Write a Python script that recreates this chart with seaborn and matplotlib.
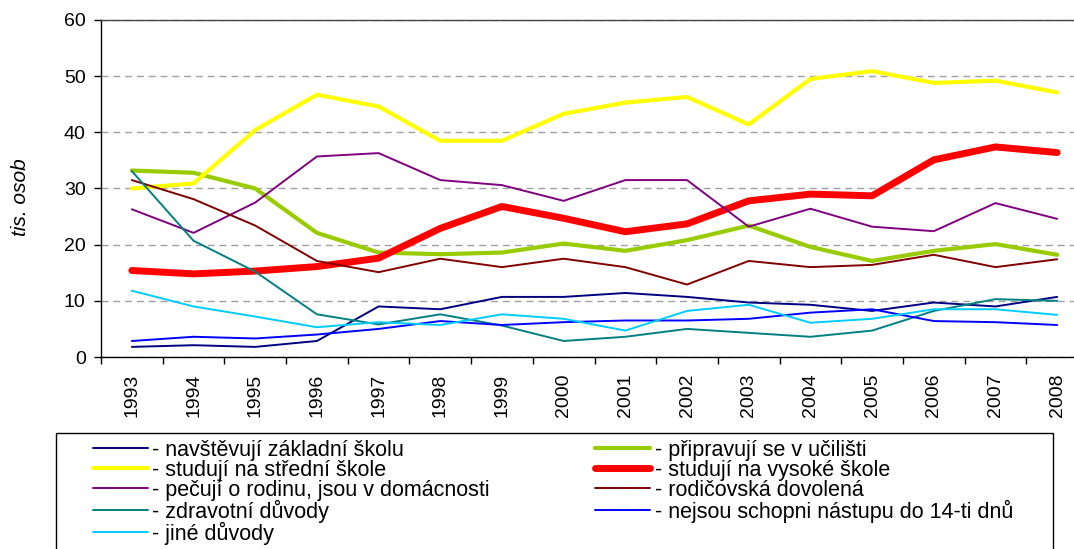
import matplotlib
matplotlib.use("Agg")
import matplotlib.pyplot as plt
import numpy as np
import pandas as pd
import seaborn as sns
from matplotlib.patches import Rectangle

years = [str(y) for y in range(1993, 2009)]

# tis. osob
zakladni = [1.8, 2.1, 1.8, 2.85, 9.0, 8.5, 10.7, 10.7, 11.4, 10.7, 9.7, 9.3, 8.2, 9.7, 9.0, 10.7]
ucilisti = [33.2, 32.8, 30.0, 22.1, 18.6, 18.3, 18.6, 20.2, 18.9, 20.8, 23.4, 19.6, 17.1, 18.9, 20.1, 18.2]
stredni = [30.0, 30.9, 40.4, 46.7, 44.6, 38.5, 38.5, 43.3, 45.3, 46.3, 41.4, 49.5, 50.9, 48.8, 49.2, 47.1]
vysoke = [15.4, 14.8, 15.3, 16.1, 17.6, 22.9, 26.8, 24.7, 22.3, 23.7, 27.8, 29.0, 28.7, 35.1, 37.4, 36.4]
rodina = [26.3, 22.1, 27.5, 35.7, 36.3, 31.5, 30.6, 27.8, 31.5, 31.5, 23.2, 26.4, 23.2, 22.4, 27.4, 24.6]
rodicovska = [31.5, 28.1, 23.4, 17.1, 15.1, 17.5, 16.0, 17.5, 16.0, 12.9, 17.1, 16.0, 16.4, 18.2, 16.0, 17.4]
zdravotni = [33.1, 20.7, 15.2, 7.6, 5.8, 7.6, 5.6, 2.85, 3.6, 5.0, 4.3, 3.6, 4.7, 8.2, 10.3, 10.0]
nejsou = [2.85, 3.6, 3.3, 4.0, 5.0, 6.4, 5.7, 6.2, 6.5, 6.5, 6.8, 7.9, 8.5, 6.4, 6.2, 5.7]
jine = [11.8, 9.0, 7.2, 5.3, 6.2, 5.7, 7.6, 6.8, 4.7, 8.2, 9.3, 6.1, 6.8, 8.5, 8.5, 7.5]

series = [
    ("- navštěvují základní školu", zakladni, "#000080", 1.4),
    ("- připravují se v učilišti", ucilisti, "#99CC00", 3.0),
    ("- studují na střední škole", stredni, "#FFFF00", 3.0),
    ("- studují na vysoké škole", vysoke, "#FF0000", 5.0),
    ("- pečují o rodinu, jsou v domácnosti", rodina, "#800080", 1.4),
    ("- rodičovská dovolená", rodicovska, "#800000", 1.4),
    ("- zdravotní důvody", zdravotni, "#008080", 1.4),
    ("- nejsou schopni nástupu do 14-ti dnů", nejsou, "#0000FF", 1.4),
    ("- jiné důvody", jine, "#00CCFF", 1.4),
]

sns.set_style("white")
plt.rcParams["font.family"] = ["Liberation Sans", "DejaVu Sans"]
plt.rcParams["text.color"] = "black"

W, H = 1074, 549
fig = plt.figure(figsize=(W / 100, H / 100), dpi=100)
ax = fig.add_axes([101 / W, 1 - 357 / H, 987 / W, 337 / H])

pos = list(range(len(years)))
handles = {}
for label, values, color, lw in series:
    df = pd.DataFrame({"pos": pos, "value": values})
    sns.lineplot(data=df, x="pos", y="value", color=color, linewidth=lw, ax=ax,
                 legend=False, solid_capstyle="round", solid_joinstyle="round")
    line = ax.get_lines()[-1]
    line.set_label(label)
    handles[label] = line

ax.set_xlim(-0.5, len(years) - 0.5)
ax.set_ylim(0, 60)
ax.set_yticks(range(0, 61, 10))
ax.set_xticks(np.arange(-0.5, len(years), 1))
ax.set_xticklabels([])
ax.set_xticks(pos, minor=True)
ax.set_xticklabels(years, minor=True, rotation=90)
ax.tick_params(axis="x", which="major", bottom=True, length=5, width=1, color="black", direction="out")
ax.tick_params(axis="x", which="minor", bottom=True, length=0, pad=12, labelsize=14, labelcolor="black")
ax.tick_params(axis="y", left=True, length=5, width=1, color="black", direction="out",
               pad=6, labelsize=14, labelcolor="black")

ax.yaxis.grid(True, color="#a0a0a0", linestyle=(0, (5, 3.5)), linewidth=1)
ax.set_axisbelow(True)
for side in ["left", "bottom", "top"]:
    ax.spines[side].set_color("black")
    ax.spines[side].set_linewidth(1)
ax.spines["top"].set_color("#444444")
ax.spines["right"].set_visible(False)

ax.set_xlabel("")
ax.set_ylabel("tis. osob", fontstyle="italic", fontsize=15, color="black")
ax.yaxis.set_label_coords(-0.072, 0.475)

order = [0, 2, 4, 6, 8, 1, 3, 5, 7]
labels = [series[i][0] for i in order]
leg = fig.legend([handles[l] for l in labels], labels, loc="upper left",
                 bbox_to_anchor=(93 / W, 1 - 440 / H), ncol=2, frameon=False,
                 fontsize=15.5, handlelength=2.55, handletextpad=0.2,
                 columnspacing=4.9, labelspacing=-0.05, borderpad=0, borderaxespad=0)

fig.patches.append(Rectangle((56 / W, -0.1), (1053 - 56) / W, (1 - 433 / H) + 0.1,
                             transform=fig.transFigure, fill=False,
                             edgecolor="black", linewidth=1))

fig.savefig("out.png", dpi=100)
